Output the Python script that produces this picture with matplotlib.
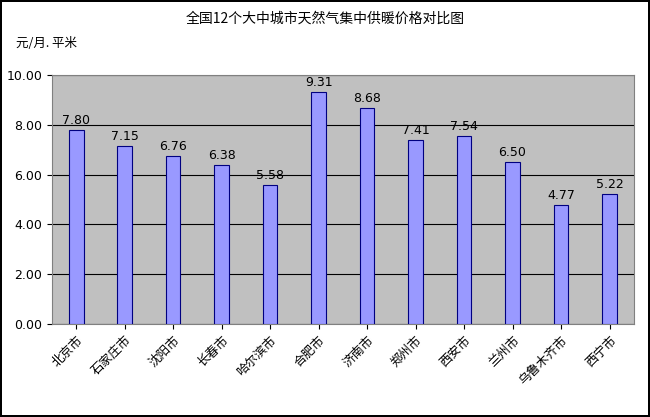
import matplotlib
matplotlib.use("Agg")
import matplotlib.pyplot as plt

cities = ["北京市", "石家庄市", "沈阳市", "长春市", "哈尔滨市", "合肥市", "济南市",
          "郑州市", "西安市", "兰州市", "乌鲁木齐市", "西宁市"]
prices = [7.80, 7.15, 6.76, 6.38, 5.58, 9.31, 8.68, 7.41, 7.54, 6.50, 4.77, 5.22]
yticks = [0, 2, 4, 6, 8, 10]

plt.rcParams['font.family'] = ['Noto Sans CJK SC', 'DejaVu Sans']

fig = plt.figure(figsize=(6.5, 4.17), dpi=100)
fig.patch.set_edgecolor('black')
fig.patch.set_linewidth(1.5)
ax = fig.add_axes([0.08, 0.223, 0.895, 0.597])
ax.set_facecolor('#C0C0C0')
x = range(len(cities))
ax.bar(x, prices, width=0.3, color='#9999FF', edgecolor='#000080', linewidth=0.8, zorder=3)
for xi, v in zip(x, prices):
    ax.text(xi, v + 0.12, f"{v:.2f}", ha='center', va='bottom', fontsize=9, family='DejaVu Sans')
ax.set_ylim(0, 10)
ax.set_xlim(-0.5, len(cities) - 0.5)
ax.set_yticks(yticks)
ax.set_yticklabels([f"{t:.2f}" for t in yticks], fontsize=9, family='DejaVu Sans')
ax.yaxis.grid(True, color='black', linewidth=0.8, zorder=0)
ax.set_xticks(list(x))
ax.set_xticklabels(cities, rotation=45, ha='right', rotation_mode='anchor', fontsize=9)
for s in ax.spines.values():
    s.set_color('#808080')
fig.text(0.5, 0.955, "全国12个大中城市天然气集中供暖价格对比图", ha='center', va='center', fontsize=10)
fig.text(0.025, 0.895, "元/月. 平米", ha='left', va='center', fontsize=9)
fig.savefig("out.png", dpi=100, edgecolor=fig.get_edgecolor())
